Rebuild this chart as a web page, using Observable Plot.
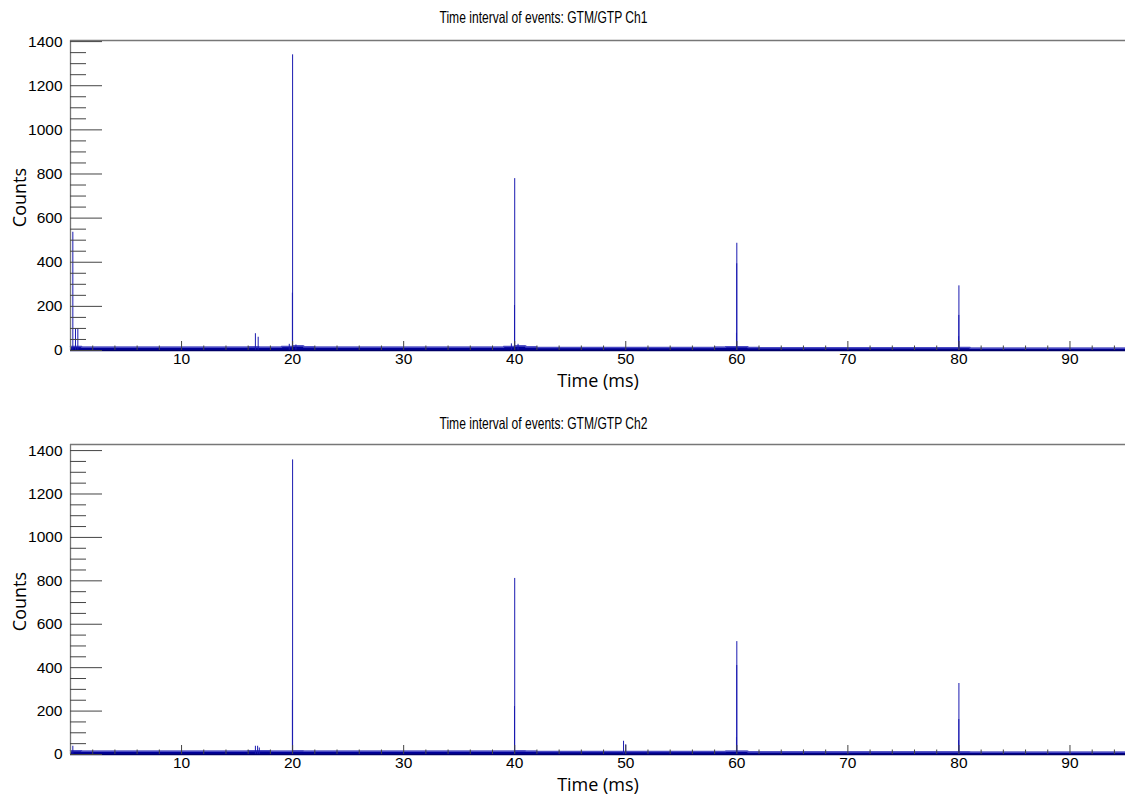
<!DOCTYPE html>
<html>
<head>
<meta charset="utf-8">
<script src="https://cdn.jsdelivr.net/npm/d3@7"></script>
<script src="https://cdn.jsdelivr.net/npm/@observablehq/plot@0.6"></script>
<style>
  body { margin: 0; background: #fff; }
  #chart svg { display: block; }
</style>
</head>
<body>
<div id="chart"></div>
<script>
// Axis ticks
const xMajorTicks = [10, 20, 30, 40, 50, 60, 70, 80, 90];
const xMinorTicks = [2, 4, 6, 8, 12, 14, 16, 18, 22, 24, 26, 28, 32, 34, 36, 38, 42, 44, 46, 48,
  52, 54, 56, 58, 62, 64, 66, 68, 72, 74, 76, 78, 82, 84, 86, 88, 92, 94];
const yMajorTicks = [0, 200, 400, 600, 800, 1000, 1200, 1400];
const yMinorTicks = [50, 100, 150, 250, 300, 350, 450, 500, 550, 650, 700, 750,
  850, 900, 950, 1050, 1100, 1150, 1250, 1300, 1350];

// Background level per 1 ms bin (bin i covers [i, i+1) ms)
const ch1Background = [
  18, 15, 15, 15, 15, 15, 15, 15, 15, 15, 15, 15, 15, 15, 15, 15, 16, 15, 15, 18,
  20, 16, 15, 15, 15, 15, 15, 15, 15, 15, 15, 15, 15, 15, 15, 15, 15, 15, 15, 18,
  20, 16, 14, 14, 14, 14, 14, 14, 14, 14, 14, 14, 14, 14, 14, 14, 14, 14, 15, 17,
  17, 14, 13, 13, 13, 13, 13, 13, 13, 13, 12, 12, 12, 12, 12, 12, 12, 12, 12, 13,
  14, 10, 10, 10, 10, 10, 10, 10, 10, 10, 10, 10, 10, 10, 10, 10];
const ch2Background = [
  17, 15, 15, 15, 15, 15, 15, 15, 15, 15, 15, 15, 15, 15, 15, 15, 17, 17, 15, 15,
  16, 15, 15, 15, 15, 15, 15, 15, 15, 15, 15, 15, 15, 15, 15, 15, 15, 15, 15, 15,
  16, 15, 14, 14, 14, 14, 14, 14, 14, 14, 14, 14, 14, 14, 14, 14, 14, 14, 14, 15,
  15, 12, 12, 12, 12, 12, 12, 12, 12, 12, 12, 12, 12, 12, 12, 12, 12, 12, 12, 12,
  12, 10, 10, 10, 10, 10, 10, 10, 10, 10, 10, 10, 10, 10, 10, 10];

// Prominent bins (time in ms, counts)
const ch1SpikeTime  = [0.21, 0.45, 0.66, 16.65, 16.9, 19.7, 19.98, 20.0, 20.3, 39.7, 39.98, 40.0, 40.3, 59.97, 59.99, 60.0, 79.97, 79.99, 80.0];
const ch1SpikeCount = [536, 98, 98, 76, 60, 28, 260, 1340, 25, 30, 204, 779, 28, 78, 393, 486, 63, 159, 293];
const ch2SpikeTime  = [0.21, 16.65, 16.85, 17.0, 19.98, 20.0, 39.98, 40.0, 49.8, 50.0, 59.97, 59.99, 60.0, 79.97, 79.99, 80.0];
const ch2SpikeCount = [38, 38, 38, 30, 249, 1357, 221, 811, 61, 45, 78, 410, 520, 64, 161, 327];

const titles = ["Time interval of events: GTM/GTP Ch1", "Time interval of events: GTM/GTP Ch2"];
const yMax = [1405, 1428];

const tickFont = "'Liberation Sans', Arial, Helvetica, sans-serif";
const labelFont = "'Open Sans', 'DejaVu Sans', sans-serif";

function toRows(times, counts) {
  return times.map((t, i) => ({t, n: counts[i]}));
}
function bgRows(levels) {
  // step area spanning each 1 ms bin, closed at the right edge
  const rows = levels.map((n, i) => ({t: i, n}));
  rows.push({t: levels.length, n: levels[levels.length - 1]});
  return rows;
}

function panel(k, marginTop, marginBottom) {
  const background = k === 0 ? ch1Background : ch2Background;
  const spikes = k === 0 ? toRows(ch1SpikeTime, ch1SpikeCount) : toRows(ch2SpikeTime, ch2SpikeCount);
  const height = 400;
  const frameH = height - marginTop - marginBottom;
  const frameW = 1125 - 70;
  const svg = Plot.plot({
    width: 1125,
    height,
    marginLeft: 70,
    marginRight: 0,
    marginTop,
    marginBottom,
    x: {domain: [0, 95], axis: null},
    y: {domain: [0, yMax[k]], axis: null},
    style: {background: "#fff"},
    marks: [
      // histogram
      Plot.areaY(bgRows(background), {x: "t", y: "n", curve: "step-after", fill: "#000099"}),
      Plot.lineY(bgRows(background), {x: "t", y: "n", curve: "step-after", stroke: "#4a4ac4", strokeWidth: 1.5}),
      Plot.ruleX(spikes, {x: "t", y1: 0, y2: "n", stroke: "#1a1ab0", strokeWidth: 1}),
      // frame
      Plot.ruleY([yMax[k]], {stroke: "#777", strokeWidth: 1.3}),
      Plot.ruleX([0], {stroke: "#777", strokeWidth: 1.3}),
      Plot.ruleY([0], {stroke: "#000066", strokeWidth: 1.5}),
      // y ticks drawn inward from the left edge
      Plot.tickY(yMajorTicks, {y: d => d, stroke: "#444", insetRight: frameW - 32}),
      Plot.tickY(yMinorTicks, {y: d => d, stroke: "#444", insetRight: frameW - 16}),
      // x ticks drawn upward from the bottom edge
      Plot.tickX(xMajorTicks, {x: d => d, stroke: "#444", insetTop: frameH - 9}),
      Plot.tickX(xMinorTicks, {x: d => d, stroke: "#444", insetTop: frameH - 4.5}),
      // tick labels
      Plot.text(yMajorTicks, {y: d => d, text: d => String(d), frameAnchor: "left", dx: -8,
        textAnchor: "end", fontSize: 15.5, fontFamily: tickFont, fill: "#000"}),
      Plot.text(xMajorTicks, {x: d => d, text: d => String(d), frameAnchor: "bottom", dy: 13,
        fontSize: 15.5, fontFamily: tickFont, fill: "#000"}),
      // axis titles
      Plot.text(["Time (ms)"], {text: d => d, frameAnchor: "bottom", dy: 36,
        fontSize: 18, fontFamily: labelFont, fill: "#000"}),
      Plot.text(["Counts"], {text: d => d, frameAnchor: "top-left", dx: -57, dy: 157, rotate: -90,
        textAnchor: "middle", fontSize: 18, fontFamily: labelFont, fill: "#000"}),
      // panel title
      Plot.text([titles[k]], {text: d => d, frameAnchor: "top-left", dx: 473, dy: k === 0 ? -29 : -27,
        textAnchor: "middle", fontSize: 16.5, fontFamily: tickFont, fill: "#000"})
    ]
  });
  // the title is set in a narrow face: squeeze it to a fixed run length
  for (const t of svg.querySelectorAll("text")) {
    if (t.textContent === titles[k]) {
      t.setAttribute("textLength", 208);
      t.setAttribute("lengthAdjust", "spacingAndGlyphs");
    }
  }
  return svg;
}

const root = document.getElementById("chart");
root.append(panel(0, 40, 50));
root.append(panel(1, 44, 46));
</script>
</body>
</html>
